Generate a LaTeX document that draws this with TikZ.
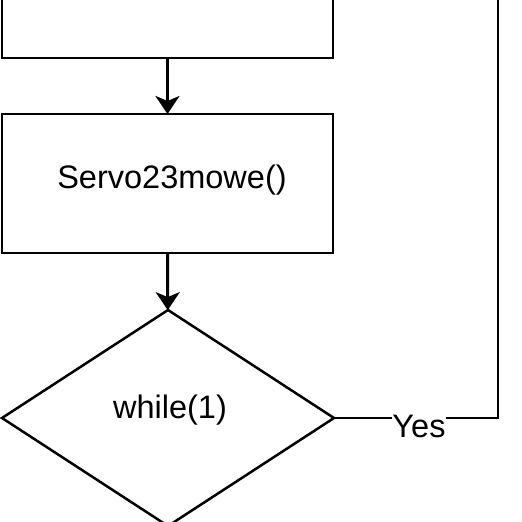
\documentclass[tikz,border=0pt]{standalone}
\usepackage{fontspec}
\setmainfont{Liberation Sans}
\usetikzlibrary{arrows.meta,shapes.geometric}
\begin{document}
\begin{tikzpicture}[x=1pt,y=-1pt,
  box/.style={draw=black,line width=2.5pt,inner sep=0pt,outer sep=0pt},
  dia/.style={draw=black,line width=2.5pt,shape=diamond,inner sep=0pt,outer sep=0pt,minimum width=332pt,minimum height=216pt},
  lbl/.style={inner sep=0pt,font=\fontsize{32.5}{38}\selectfont,text=black,anchor=base},
  arr/.style={line width=3pt,-{Stealth[length=18pt,width=24pt,inset=5pt]}},
  conn/.style={line width=2.5pt}]
\useasboundingbox (0,0) rectangle (522,522);
\fill[white] (0,0) rectangle (522,522);
\node[box,minimum width=331pt,minimum height=140pt,anchor=south west] (box1) at (2,58) {};
\node[box,minimum width=331pt,minimum height=139pt,anchor=north west] (box2) at (2,114) {};
\node[dia] (cond) at (168,418) {};
\node[lbl] (t2) at (172,188) {Servo23mowe()};
\node[lbl] (tc) at (170,418) {while(1)};
\draw[arr] (box1) -- (box2);
\draw[arr] (box2) -- (cond);
\coordinate (c2) at (498,-10);
\coordinate (c1) at (cond.east -| c2);
\draw[conn] (cond.east) -- (c1) -- (c2);
\node[lbl,fill=white,inner ysep=1pt] (yes) at (419,437) {Yes};
\end{tikzpicture}
\end{document}
